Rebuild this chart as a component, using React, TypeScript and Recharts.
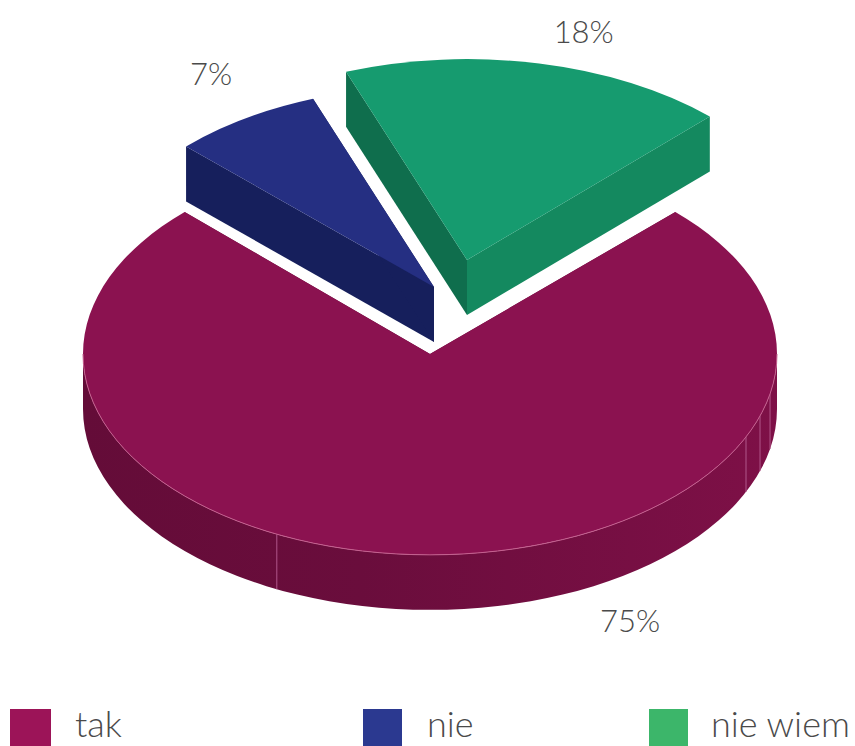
import React from "react";
import { PieChart, Pie, Cell, Legend } from "recharts";

const categories = ["tak", "nie", "nie wiem"];
const shares = [75, 7, 18];
const topColors = ["#8B1250", "#252F82", "#169B6F"];
const wallStartColors = ["#640C38", "#161F5C", "#0F6E4D"];
const wallEndColors = ["#640C38", "#161F5C", "#14895F"];
const legendColors = ["#9C1458", "#2B3990", "#3CB66A"];
const pieData = categories.map((name, i) => ({ name, value: shares[i] }));

const W = 855, H = 746;
const CX = 430, CY = 354, RX = 347, SQUASH = 0.579, DEPTH = 55;
const FONT = "Lato, sans-serif";
const explode = [[0, 0], [4, -67], [37, -94]];
const sliceTilt = [0, 0.6, 0.6];
const labelNudge = [[200, 65], [-37, -44], [41, -33]];
const legendSwatchX = [10, 363, 649];
const legendTextX = [75, 427, 711];
const rimSeams = [-116.2, -24.4, -18, -11.5];

const rad = (d: number) => (d * Math.PI) / 180;
const pt = (cx: number, cy: number, r: number, a: number, dy = 0) =>
  [cx + r * Math.cos(rad(a)), cy - r * SQUASH * Math.sin(rad(a)) + dy] as const;
const arcTo = (r: number, a0: number, a1: number, cx: number, cy: number, dy: number) => {
  const [x, y] = pt(cx, cy, r, a1, dy);
  const large = Math.abs(a1 - a0) > 180 ? 1 : 0;
  const sweep = a1 < a0 ? 1 : 0;
  return `A${r} ${r * SQUASH} 0 ${large} ${sweep} ${x} ${y}`;
};

function Slice3D(props: any) {
  const { cx, cy, outerRadius: r, index } = props;
  const i = index ?? 0;
  const startAngle = props.startAngle + sliceTilt[i];
  const endAngle = props.endAngle + sliceTilt[i];
  const x0 = cx + explode[i][0], y0 = cy + explode[i][1];
  const [sx, sy] = pt(x0, y0, r, startAngle);
  const wall = (a: number, fill: string) => {
    const [x, y] = pt(x0, y0, r, a);
    return <path d={`M${x0} ${y0}L${x} ${y}L${x} ${y + DEPTH}L${x0} ${y0 + DEPTH}Z`} fill={fill} />;
  };
  const lo = Math.max(endAngle, -180), hi = Math.min(startAngle, 0);
  const hasRim = lo < hi;
  const [rx0, ry0] = pt(x0, y0, r, lo);
  const [rx1, ry1] = pt(x0, y0, r, hi);
  const rimLine = `M${rx0} ${ry0}${arcTo(r, lo, hi, x0, y0, 0)}`;
  const top = `M${x0} ${y0}L${sx} ${sy}${arcTo(r, startAngle, endAngle, x0, y0, 0)}Z`;
  return (
    <g>
      {wall(startAngle, wallStartColors[i])}
      {wall(endAngle, wallEndColors[i])}
      {hasRim && (
        <>
          <defs>
            <linearGradient id={`rim${i}`} x1="0" y1="0" x2="1" y2="0">
              <stop offset="0" stopColor={wallStartColors[i]} />
              <stop offset="0.4" stopColor="#6A0D3C" />
              <stop offset="1" stopColor="#7E1047" />
            </linearGradient>
          </defs>
          <path d={`${rimLine}L${rx1} ${ry1 + DEPTH}${arcTo(r, hi, lo, x0, y0, DEPTH)}Z`} fill={`url(#rim${i})`} />
          {rimSeams.map((a) => {
            const [x, y] = pt(x0, y0, r, a);
            return <line key={a} x1={x} y1={y} x2={x} y2={y + DEPTH} stroke="#B0568A" strokeWidth={1} />;
          })}
        </>
      )}
      <path d={top} fill={topColors[i]} />
      {hasRim && <path d={rimLine} fill="none" stroke="#C4608F" strokeWidth={1} />}
    </g>
  );
}

function SliceLabel(props: any) {
  const { cx, cy, outerRadius: r, midAngle, index, value } = props;
  const [x, y] = pt(cx + explode[index][0], cy + explode[index][1], r, midAngle);
  return (
    <text x={x + labelNudge[index][0]} y={y + labelNudge[index][1]} textAnchor="middle" dominantBaseline="central"
      fontFamily={FONT} fontWeight={300} fontSize={31} fill="#4A4A4A">
      {`${value}%`}
    </text>
  );
}

function LegendRow({ payload }: any) {
  return (
    <div style={{ position: "relative", width: W, height: 37 }}>
      {(payload ?? []).map((item: any, i: number) => (
        <React.Fragment key={item.value}>
          <div style={{ position: "absolute", left: legendSwatchX[i], top: 0, width: i === 0 ? 41 : 39, height: 37, background: legendColors[i] }} />
          <div style={{ position: "absolute", left: legendTextX[i], top: -6, lineHeight: "40px", fontFamily: FONT, fontWeight: 300, fontSize: 36, color: "#4A4A4A", whiteSpace: "nowrap" }}>
            {item.value}
          </div>
        </React.Fragment>
      ))}
    </div>
  );
}

export default function App() {
  return (
    <div style={{ position: "absolute", left: 0, top: 0, width: W, height: H, overflow: "hidden", background: "#fff" }}>
      <PieChart width={W} height={H} margin={{ top: 0, right: 0, bottom: 0, left: 0 }}>
        <Pie
          data={pieData}
          dataKey="value"
          nameKey="name"
          cx={CX}
          cy={CY}
          innerRadius={0}
          outerRadius={RX}
          startAngle={45}
          endAngle={-315}
          paddingAngle={0}
          stroke="none"
          isAnimationActive={false}
          labelLine={false}
          label={SliceLabel}
          shape={Slice3D}
        >
          {categories.map((c, i) => (
            <Cell key={c} fill={topColors[i]} />
          ))}
        </Pie>
        <Legend
          content={LegendRow}
          verticalAlign="bottom"
          itemSorter={null as any}
          wrapperStyle={{ left: 0, top: 709, bottom: "auto", width: W }}
        />
      </PieChart>
    </div>
  );
}
